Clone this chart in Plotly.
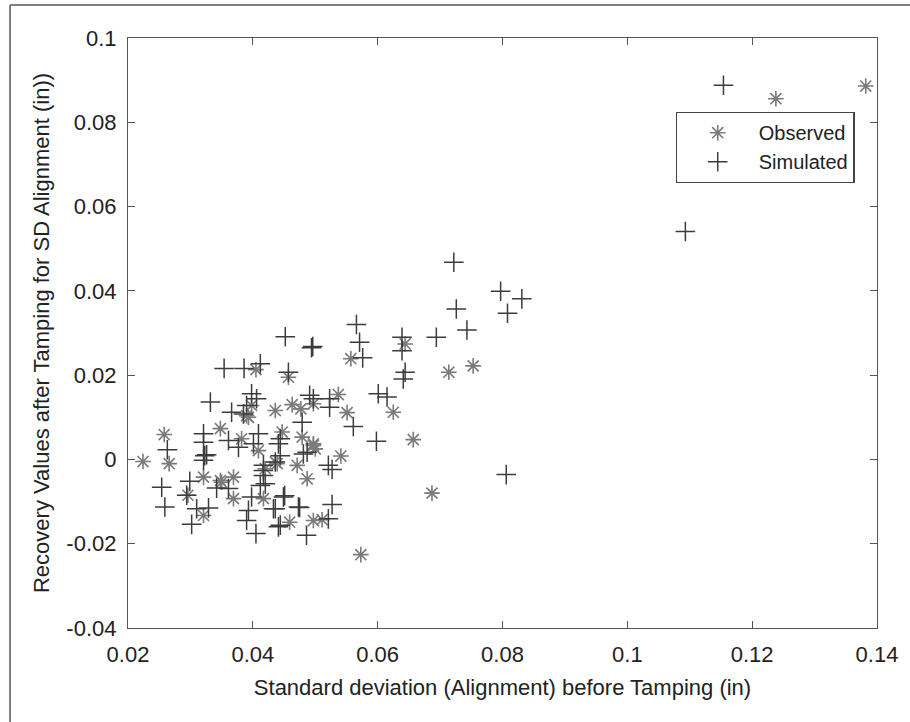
import plotly.graph_objects as go

# Observed (x, y)
obs_x = [0.1238, 0.1382, 0.0557, 0.0644, 0.0714, 0.0753, 0.0457, 0.0537, 0.0551, 0.0625,
         0.0436, 0.0463, 0.0477, 0.0497, 0.0447, 0.0657, 0.0687, 0.0573, 0.0541, 0.0487,
         0.0471, 0.0439, 0.0459, 0.0497, 0.0511, 0.0479, 0.0497, 0.0500, 0.0436, 0.0390,
         0.0497, 0.0348, 0.0382, 0.0409, 0.0420, 0.0321, 0.0348, 0.0369, 0.0369, 0.0296,
         0.0321, 0.0417, 0.0405, 0.0393, 0.0258, 0.0224, 0.0266, 0.0350, 0.0398]
obs_y = [0.0856, 0.0886, 0.0239, 0.0274, 0.0207, 0.0222, 0.0195, 0.0154, 0.0111, 0.0112,
         0.0116, 0.0130, 0.0120, 0.0132, 0.0065, 0.0047, -0.0080, -0.0226, 0.0008, -0.0046,
         -0.0014, -0.0010, -0.0149, -0.0145, -0.0143, 0.0053, 0.0037, 0.0025, -0.0006, 0.0104,
         0.0033, 0.0073, 0.0049, 0.0021, -0.0022, -0.0042, -0.0050, -0.0042, -0.0093, -0.0085,
         -0.0133, -0.0093, 0.0213, 0.0100, 0.0059, -0.0005, -0.0010, -0.0054, 0.0128]

# Simulated (x, y)
sim_x = [0.1154, 0.1093, 0.0722, 0.0797, 0.0831, 0.0808, 0.0726, 0.0743, 0.0694, 0.0566,
         0.0571, 0.0576, 0.0639, 0.0639, 0.0644, 0.0641, 0.0452, 0.0494, 0.0496, 0.0457,
         0.0491, 0.0601, 0.0615, 0.0561, 0.0479, 0.0523, 0.0523, 0.0598, 0.0806, 0.0521,
         0.0527, 0.0436, 0.0449, 0.0451, 0.0475, 0.0527, 0.0441, 0.0486, 0.0521, 0.0481,
         0.0332, 0.0366, 0.0398, 0.0406, 0.0390, 0.0385, 0.0497, 0.0487, 0.0321, 0.0321,
         0.0361, 0.0377, 0.0409, 0.0401, 0.0444, 0.0326, 0.0321, 0.0417, 0.0436, 0.0417,
         0.0412, 0.0420, 0.0299, 0.0342, 0.0361, 0.0294, 0.0310, 0.0329, 0.0302, 0.0398,
         0.0433, 0.0473, 0.0393, 0.0390, 0.0444, 0.0354, 0.0386, 0.0412, 0.0263, 0.0254,
         0.0259, 0.0323, 0.0405, 0.0441, 0.0444, 0.0417]
sim_y = [0.0888, 0.0541, 0.0468, 0.0399, 0.0381, 0.0347, 0.0357, 0.0307, 0.0290, 0.0320,
         0.0278, 0.0241, 0.0290, 0.0258, 0.0207, 0.0191, 0.0291, 0.0265, 0.0268, 0.0207,
         0.0152, 0.0156, 0.0148, 0.0078, 0.0088, 0.0144, 0.0124, 0.0043, -0.0036, -0.0014,
         -0.0024, -0.0117, -0.0089, -0.0086, -0.0114, -0.0107, -0.0160, -0.0180, -0.0141, 0.0013,
         0.0136, 0.0112, 0.0156, 0.0144, 0.0128, 0.0108, 0.0144, 0.0017, 0.0061, 0.0041,
         0.0045, 0.0029, 0.0061, 0.0037, 0.0049, 0.0011, -0.0002, -0.0014, -0.0006, -0.0038,
         -0.0062, -0.0058, -0.0052, -0.0068, -0.0069, -0.0085, -0.0117, -0.0115, -0.0154, -0.0089,
         -0.0117, -0.0113, -0.0121, -0.0145, -0.0156, 0.0216, 0.0216, 0.0227, 0.0023, -0.0066,
         -0.0113, 0.0009, -0.0176, 0.0037, 0.0009, -0.0026]

x_ticks = [0.02, 0.04, 0.06, 0.08, 0.1, 0.12, 0.14]
x_tick_text = ["0.02", "0.04", "0.06", "0.08", "0.1", "0.12", "0.14"]
y_ticks = [-0.04, -0.02, 0, 0.02, 0.04, 0.06, 0.08, 0.1]
y_tick_text = ["-0.04", "-0.02", "0", "0.02", "0.04", "0.06", "0.08", "0.1"]

FONT = "Liberation Sans, Arial, sans-serif"

fig = go.Figure()
fig.add_trace(go.Scatter(
    x=obs_x, y=obs_y, mode="markers", name="Observed",
    marker=dict(symbol="asterisk-open", size=13, color="#7a7a7a",
                line=dict(color="#7a7a7a", width=1.6)),
))
fig.add_trace(go.Scatter(
    x=sim_x, y=sim_y, mode="markers", name="Simulated",
    marker=dict(symbol="cross-thin-open", size=14, color="#3c3c3c",
                line=dict(color="#3c3c3c", width=1.5)),
))

axis_common = dict(
    showgrid=False, zeroline=False, showline=True, linecolor="#555", linewidth=1.2,
    mirror="ticks", ticks="inside", ticklen=7, tickcolor="#555", tickwidth=1,
    tickfont=dict(family=FONT, size=22, color="#222"), ticklabelstandoff=6,
)
fig.update_xaxes(range=[0.02, 0.14], tickvals=x_ticks, ticktext=x_tick_text,
                 title=dict(text="Standard deviation (Alignment) before Tamping (in)",
                            font=dict(family=FONT, size=22, color="#222"), standoff=14),
                 **axis_common)
fig.update_yaxes(range=[-0.04, 0.1], tickvals=y_ticks, ticktext=y_tick_text,
                 title=dict(text="Recovery Values after Tamping for SD Alignment (in))",
                            font=dict(family=FONT, size=22, color="#222"), standoff=10),
                 **axis_common)

fig.update_layout(
    width=910, height=722,
    margin=dict(l=128, r=33, t=38, b=94),
    paper_bgcolor="white", plot_bgcolor="white",
    font=dict(family=FONT, color="#222"),
    legend=dict(x=0.731, y=0.8746, xanchor="left", yanchor="top",
                bgcolor="white", bordercolor="#444", borderwidth=1.2,
                font=dict(family=FONT, size=20, color="#222"),
                itemwidth=72, tracegroupgap=0),
    showlegend=True,
    shapes=[
        dict(type="line", xref="paper", yref="paper",
             x0=-0.1575, x1=-0.1575, y0=-0.2, y1=1.0559,
             line=dict(color="#555", width=1.5), layer="below"),
        dict(type="line", xref="paper", yref="paper",
             x0=-0.1575, x1=1.1, y0=1.0559, y1=1.0559,
             line=dict(color="#555", width=1.5), layer="below"),
    ],
)

fig.write_html(
    "out.html",
    config={"displayModeBar": False},
    post_script="document.body.style.margin='0';document.body.style.overflow='hidden';",
)
